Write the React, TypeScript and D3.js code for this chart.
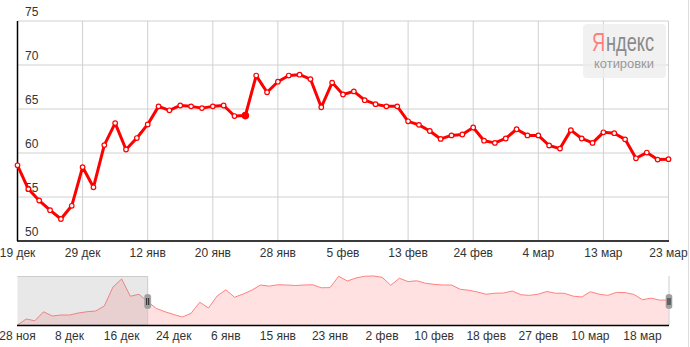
import React from "react";
import * as d3 from "d3";

const mainValues = [
  58.6, 55.9, 54.6, 53.5, 52.5, 54.0, 58.4, 56.1, 60.9, 63.4,
  60.4, 61.7, 63.25, 65.3, 64.85, 65.4, 65.3, 65.1, 65.3, 65.4,
  64.2, 64.25, 68.8, 66.9, 68.1, 68.8, 68.9, 68.4, 65.2, 68.0,
  66.65, 67.0, 66.0, 65.55, 65.3, 65.3, 63.6, 63.2, 62.5, 61.6,
  62.0, 62.1, 62.9, 61.4, 61.15, 61.65, 62.7, 62.0, 62.0, 60.85,
  60.5, 62.6, 61.65, 61.15, 62.35, 62.25, 61.55, 59.4, 60.05, 59.25,
  59.3,
];
const highlightIndex = 21;
const navPreValues = [49.3, 51.7, 51.0, 54.6, 52.9, 53.3, 53.3, 54.1, 54.6, 54.9, 56.9, 64.5, 67.7, 60.8, 61.6];
const mainTickLabels = ["19 дек", "29 дек", "12 янв", "20 янв", "28 янв", "5 фев", "13 фев", "24 фев", "4 мар", "13 мар", "23 мар"];
const navTickLabels = ["28 ноя", "8 дек", "16 дек", "24 дек", "6 янв", "15 янв", "23 янв", "2 фев", "10 фев", "18 фев", "27 фев", "10 мар", "18 мар"];
const yTicks = [50, 55, 60, 65, 70, 75];
const tickStep = 6;

const FONT = "'Liberation Sans', Arial, sans-serif";

export default function App() {
  const W = 690, H = 347;
  const left = 17.5, right = 668.5, top = 21, bottom = 241;
  const x = d3.scaleLinear().domain([0, mainValues.length - 1]).range([left, right]);
  const y = d3.scaleLinear().domain([50, 75]).range([bottom, top]);

  const navValues = [...navPreValues, ...mainValues];
  const nx = d3.scaleLinear().domain([0, navValues.length - 1]).range([left, right]);
  const navTop = 276, navBottom = 325;
  const ny = d3.scaleLinear().domain(d3.extent(navValues) as [number, number]).range([navBottom, navTop]);

  const line = d3.line<number>().x((_, i) => x(i)).y((d) => y(d));
  const navLine = d3.line<number>().x((_, i) => nx(i)).y((d) => ny(d));
  const navArea = d3.area<number>().x((_, i) => nx(i)).y0(navBottom).y1((d) => ny(d));

  const maskRight = nx(navPreValues.length);

  return (
    <svg width={W} height={H} style={{ position: "absolute", left: 0, top: 0, display: "block" }} fontFamily={FONT}>
      <rect x={0} y={0} width={W} height={H} fill="#fff" />
      <line x1={688.5} x2={688.5} y1={0} y2={H} stroke="#ddd" />
      {/* grid */}
      {yTicks.map((t) => (
        <line key={"gy" + t} x1={left} x2={right} y1={y(t)} y2={y(t)} stroke="#d0d0d0" strokeWidth={1} />
      ))}
      {mainTickLabels.map((_, k) => (
        <line key={"gx" + k} x1={x(k * tickStep)} x2={x(k * tickStep)} y1={top} y2={bottom} stroke="#d0d0d0" strokeWidth={1} />
      ))}
      {/* logo */}
      <rect x={583} y={24} width={83} height={54} rx={4} fill="#ececec" fillOpacity={0.75} />
      <g transform="translate(592.5,51) scale(0.73,1)">
        <text x={17.5} y={0} fontSize={25} fill="#ff7f7f" textAnchor="end">Я</text>
        <text x={18.5} y={0} fontSize={25} fill="#8a8a8a">ндекс</text>
      </g>
      <text x={594} y={68} fontSize={12} fill="#999" textLength={60} lengthAdjust="spacingAndGlyphs">котировки</text>
      {/* y labels */}
      {yTicks.map((t) => (
        <text key={"yl" + t} x={25} y={y(t) - 5} fontSize={12} fill="#333">{t}</text>
      ))}
      {/* axes */}
      <line x1={left} x2={left} y1={top} y2={bottom} stroke="#000" strokeWidth={1.5} />
      <line x1={left - 0.5} x2={right + 0.5} y1={bottom} y2={bottom} stroke="#000" strokeWidth={1.5} />
      {mainTickLabels.map((l, k) => (
        <text key={"xl" + k} x={x(k * tickStep)} y={257} fontSize={12} fill="#333" textAnchor="middle">{l}</text>
      ))}
      {/* series */}
      <path d={line(mainValues) || ""} fill="none" stroke="#f00" strokeWidth={3} strokeLinejoin="round" />
      {mainValues.map((v, i) =>
        i === highlightIndex ? (
          <circle key={"p" + i} cx={x(i)} cy={y(v)} r={3.8} fill="#f00" />
        ) : (
          <circle key={"p" + i} cx={x(i)} cy={y(v)} r={2.3} fill="#fff" stroke="#f00" strokeWidth={1.2} />
        )
      )}
      {/* navigator */}
      <path d={navArea(navValues) || ""} fill="#ffe1e1" />
      <path d={navLine(navValues) || ""} fill="none" stroke="#ff8080" strokeWidth={1} />
      <rect x={left} y={navTop} width={maskRight - left} height={navBottom - navTop} fill="rgb(150,150,150)" fillOpacity={0.22} />
      <path d={`M${left},${navTop + 0.5}H${maskRight}V${navBottom}`} fill="none" stroke="#ccc" strokeWidth={1} />
      <line x1={right + 0.5} x2={right + 0.5} y1={navTop} y2={navBottom} stroke="#ccc" strokeWidth={1} />
      <line x1={left - 0.5} x2={right + 0.5} y1={navBottom + 0.5} y2={navBottom + 0.5} stroke="#000" strokeWidth={1.5} />
      {navTickLabels.map((l, k) => (
        <text key={"nl" + k} x={nx(k * tickStep)} y={340} fontSize={12} fill="#333" textAnchor="middle">{l}</text>
      ))}
      {[maskRight, right + 0.5].map((hx, k) => (
        <g key={"h" + k}>
          <rect x={hx - 3} y={294.5} width={6} height={14} rx={2} fill="#a0a0a0" stroke="#909090" strokeWidth={0.5} />
          <line x1={hx - 1} x2={hx - 1} y1={298} y2={305} stroke="#222" strokeWidth={1} />
          <line x1={hx + 1} x2={hx + 1} y1={298} y2={305} stroke="#222" strokeWidth={1} />
        </g>
      ))}
    </svg>
  );
}
